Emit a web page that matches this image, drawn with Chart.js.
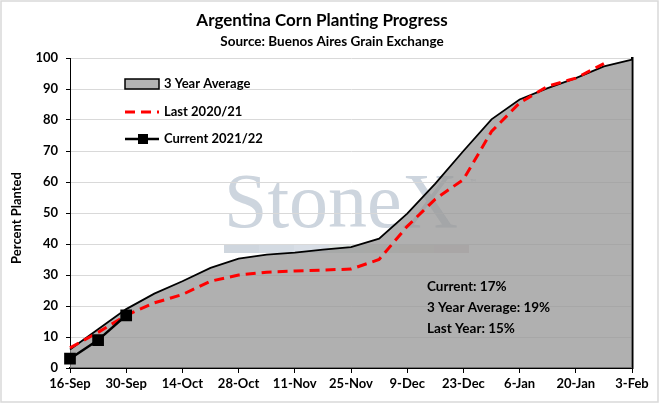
<!DOCTYPE html>
<html>
<head>
<meta charset="utf-8">
<script src="https://cdn.jsdelivr.net/npm/chart.js@4"></script>
<style>
  html, body { margin: 0; padding: 0; background: #fff; }
  #wrap { width: 659px; height: 403px; position: relative; }
</style>
</head>
<body>
<div id="wrap"><canvas id="cornChart"></canvas></div>
<script>
// weekly dates, 16-Sep to 3-Feb
const weeks = ['16-Sep','23-Sep','30-Sep','7-Oct','14-Oct','21-Oct','28-Oct','4-Nov','11-Nov','18-Nov',
  '25-Nov','2-Dec','9-Dec','16-Dec','23-Dec','30-Dec','6-Jan','13-Jan','20-Jan','27-Jan','3-Feb'];

const avg3yr = [6, 12.5, 19, 24, 28, 32.3, 35.3, 36.6, 37.2, 38.2, 39, 41.7, 49.8, 59.5, 70, 80.2, 86.6, 90.3, 93.5, 97.3, 99.5];
const last2021 = [6.5, 11.5, 17, 21, 23.7, 28, 30, 30.9, 31.3, 31.6, 31.9, 35, 45.7, 54.5, 60.8, 76.3, 85.5, 90.9, 93.5, 98.2];
const current2122 = [3, 9, 17];

const seriesNames = ['3 Year Average', 'Last 2020/21', 'Current 2021/22'];
const notes = ['Current: 17%', '3 Year Average: 19%', 'Last Year: 15%'];

const FONT = 'Lato, "DejaVu Sans", sans-serif';

// title, watermark, legend, notes, frame
const decor = {
  id: 'decor',
  beforeDraw(chart) {
    const { ctx } = chart;
    ctx.save();
    // StoneX watermark
    ctx.fillStyle = '#cdd5de';
    ctx.font = '78px "Liberation Serif", "DejaVu Serif", serif';
    ctx.textBaseline = 'alphabetic';
    ctx.textAlign = 'left';
    ctx.fillText('StoneX', 224, 227);
    ctx.font = '8px ' + FONT;
    ctx.fillText('\u2122', 470, 185);
    const barCols = ['#cfd6de', '#d3dae2', '#d8dee6', '#dce3e0', '#e0e3dc', '#e2ddd8', '#e3d6d8'];
    barCols.forEach((c, i) => {
      ctx.fillStyle = c;
      ctx.fillRect(224 + i * 35, 245, 35, 8);
    });
    ctx.restore();
  },
  afterDraw(chart) {
    const { ctx } = chart;
    ctx.save();
    ctx.fillStyle = '#000';
    ctx.textAlign = 'center';
    ctx.textBaseline = 'middle';
    ctx.font = 'bold 17px ' + FONT;
    ctx.fillText('Argentina Corn Planting Progress', 322, 21);
    ctx.font = 'bold 13.5px ' + FONT;
    ctx.fillText('Source: Buenos Aires Grain Exchange', 332, 42);

    // y title
    ctx.save();
    ctx.translate(17, 218);
    ctx.rotate(-Math.PI / 2);
    ctx.font = 'bold 13px ' + FONT;
    ctx.fillText('Percent Planted', 0, 0);
    ctx.restore();

    // legend
    ctx.textAlign = 'left';
    ctx.fillStyle = '#b3b3b3';
    ctx.fillRect(125, 79, 34, 10);
    ctx.strokeStyle = '#000';
    ctx.lineWidth = 1.5;
    ctx.strokeRect(125, 79, 34, 10);
    ctx.strokeStyle = '#ff0000';
    ctx.lineWidth = 3;
    ctx.setLineDash([10, 6]);
    ctx.beginPath(); ctx.moveTo(125, 112); ctx.lineTo(159, 112); ctx.stroke();
    ctx.setLineDash([]);
    ctx.strokeStyle = '#000';
    ctx.lineWidth = 2.5;
    ctx.beginPath(); ctx.moveTo(125, 139); ctx.lineTo(159, 139); ctx.stroke();
    ctx.fillStyle = '#000';
    ctx.fillRect(138, 134, 10, 10);
    ctx.font = 'bold 13px ' + FONT;
    [84, 112, 139].forEach((y, i) => ctx.fillText(seriesNames[i], 164, y));

    // notes
    ctx.font = 'bold 13.5px ' + FONT;
    [287, 308, 329].forEach((y, i) => ctx.fillText(notes[i], 427, y));

    // outer frame
    ctx.strokeStyle = '#d9d9d9';
    ctx.lineWidth = 1.5;
    ctx.strokeRect(1, 1, 657, 401);
    ctx.restore();
  }
};

new Chart(document.getElementById('cornChart'), {
  type: 'line',
  data: {
    labels: weeks,
    datasets: [{
      label: seriesNames[0],
      data: avg3yr,
      borderColor: '#000',
      borderWidth: 1.8,
      backgroundColor: 'rgba(150,150,150,0.75)',
      fill: 'origin',
      pointRadius: 0,
      tension: 0,
      order: 3
    }, {
      label: seriesNames[1],
      data: last2021,
      borderColor: '#ff0000',
      borderWidth: 3,
      borderDash: [10, 6],
      fill: false,
      pointRadius: 0,
      tension: 0,
      order: 2
    }, {
      label: seriesNames[2],
      data: current2122,
      borderColor: '#000',
      borderWidth: 2.5,
      backgroundColor: '#000',
      pointStyle: 'rect',
      pointRadius: 6.5,
      fill: false,
      tension: 0,
      order: 1
    }]
  },
  options: {
    responsive: true,
    maintainAspectRatio: false,
    animation: false,
    layout: { padding: { left: 0, right: 27, top: 58, bottom: 0 } },
    plugins: {
      legend: { display: false },
      tooltip: { enabled: false }
    },
    scales: {
      x: {
        offset: false,
        grid: { drawOnChartArea: false, tickLength: 5, tickColor: '#000' },
        border: { color: '#000', width: 2 },
        ticks: {
          autoSkip: false,
          maxRotation: 0,
          padding: 3,
          color: '#000',
          font: { family: FONT, size: 13, weight: 'bold' },
          callback: function(v, i) { return i % 2 === 0 ? weeks[i] : null; }
        },
        afterFit: s => { s.height = 35; }
      },
      y: {
        min: 0,
        max: 100,
        grid: { color: '#d9d9d9', lineWidth: 1, tickLength: 4, tickColor: '#000' },
        border: { color: '#000', width: 1 },
        ticks: {
          stepSize: 10,
          padding: 8,
          color: '#000',
          font: { family: FONT, size: 13, weight: 'bold' }
        },
        afterFit: s => { s.width = 70; }
      },
      yR: {
        position: 'right',
        min: 0,
        max: 100,
        grid: { drawOnChartArea: false, drawTicks: false },
        border: { color: '#000', width: 2.5 },
        ticks: { display: false },
        afterFit: s => { s.width = 0; }
      }
    }
  },
  plugins: [decor]
});
</script>
</body>
</html>
